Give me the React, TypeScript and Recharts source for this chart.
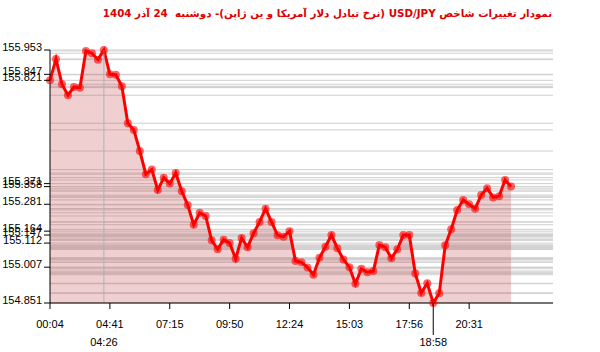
import React from 'react';
import {
  ComposedChart,
  Area,
  XAxis,
  YAxis,
  CartesianGrid,
  ReferenceLine,
} from 'recharts';

const title = 'نمودار تغییرات شاخص USD/JPY (نرخ تبادل دلار آمریکا و ین ژاپن)- دوشنبه  24 آذر 1404';

// price per sample, in order
const prices = [
  155.821, 155.914, 155.804, 155.756, 155.792, 155.789, 155.949, 155.939, 155.911, 155.953,
  155.847, 155.845, 155.795, 155.634, 155.605, 155.513, 155.412, 155.432, 155.343, 155.397,
  155.371, 155.417, 155.338, 155.278, 155.192, 155.244, 155.23, 155.124, 155.085, 155.127,
  155.112, 155.044, 155.134, 155.094, 155.155, 155.204, 155.262, 155.204, 155.146, 155.14,
  155.164, 155.034, 155.028, 155.006, 154.974, 155.048, 155.096, 155.147, 155.089, 155.041,
  155.007, 154.935, 155.0, 154.985, 154.99, 155.104, 155.094, 155.046, 155.085, 155.147,
  155.147, 154.98, 154.895, 154.937, 154.851, 154.893, 155.102, 155.172, 155.256, 155.3,
  155.281, 155.262, 155.321, 155.351, 155.311, 155.316, 155.387, 155.358,
];

// x tick positions (sample index) and their labels
const tickIdx = [0, 10, 20, 30, 40, 50, 60, 70];
const tickLabels = ['00:04', '04:41', '07:15', '09:50', '12:24', '15:03', '17:56', '20:31'];

// high and low markers
const maxIdx = 9;
const maxLabel = '04:26';
const minIdx = 64;
const minLabel = '18:58';

const yTicks = [154.851, 155.007, 155.112, 155.147, 155.164, 155.281, 155.358, 155.371, 155.821, 155.847, 155.953];

const data = prices.map((price, i) => ({ i, price }));

const font = '"Liberation Sans", Arial, sans-serif';

const XTick = ({ x, y, payload }: any) => {
  const v = payload.value;
  if (v === maxIdx) {
    return (
      <text x={x} y={y + 43} textAnchor="middle" fontSize={11} fontFamily={font} fill="#000">
        {maxLabel}
      </text>
    );
  }
  if (v === minIdx) {
    return (
      <g>
        <line x1={x} y1={y} x2={x} y2={y + 32} stroke="#000" />
        <text x={x} y={y + 43} textAnchor="middle" fontSize={11} fontFamily={font} fill="#000">
          {minLabel}
        </text>
      </g>
    );
  }
  const k = tickIdx.indexOf(v);
  return (
    <g>
      <line x1={x} y1={y} x2={x} y2={y + 6} stroke="#000" />
      <text x={x} y={y + 25} textAnchor="middle" fontSize={11} fontFamily={font} fill="#000">
        {k >= 0 ? tickLabels[k] : ''}
      </text>
    </g>
  );
};

const YTick = ({ x, y, payload }: any) => (
  <g>
    <line x1={x - 6} y1={y} x2={x} y2={y} stroke="#000" />
    <text x={x - 8} y={y + 1} textAnchor="end" fontSize={11} fontFamily={font} fill="#000">
      {payload.value.toFixed(3)}
    </text>
  </g>
);

const App = () => {
  return (
    <div style={{ position: 'relative', width: 600, height: 352, background: '#fff' }}>
      <style>{`body{margin:0}`}</style>
      <div
        style={{
          position: 'absolute',
          top: 7,
          left: 0,
          width: 655,
          textAlign: 'center',
          direction: 'rtl',
          color: '#e00000',
          fontFamily: '"DejaVu Sans", sans-serif',
          fontWeight: 'bold',
          fontSize: 10.3,
          whiteSpace: 'pre',
        }}
      >
        {title}
      </div>
      <ComposedChart
        width={600}
        height={352}
        data={data}
        margin={{ top: 50, right: 47, left: 0, bottom: 0 }}
      >
        <CartesianGrid
          vertical={false}
          horizontalValues={prices}
          stroke="#cfcfcf"
          strokeWidth={1}
        />
        <XAxis
          dataKey="i"
          type="number"
          domain={[0, 84]}
          ticks={[...tickIdx, maxIdx, minIdx]}
          interval={0}
          height={49}
          tickSize={0}
          tickMargin={0}
          tickLine={false}
          axisLine={{ stroke: '#000' }}
          tick={<XTick />}
        />
        <YAxis
          type="number"
          domain={[154.851, 155.953]}
          ticks={yTicks}
          interval={0}
          width={50}
          tickSize={0}
          tickMargin={0}
          tickLine={false}
          axisLine={{ stroke: '#000' }}
          tick={<YTick />}
        />
        <Area
          type="linear"
          dataKey="price"
          stroke="none"
          fill="#c04040"
          fillOpacity={0.25}
          isAnimationActive={false}
        />
        <ReferenceLine x={maxIdx} stroke="#b0b0b0" />
        <Area
          type="linear"
          dataKey="price"
          stroke="#ff0000"
          strokeWidth={3}
          fill="none"
          dot={{ r: 4, fill: '#ff0000', stroke: 'none' }}
          isAnimationActive={false}
        />
      </ComposedChart>
    </div>
  );
};

export default App;
